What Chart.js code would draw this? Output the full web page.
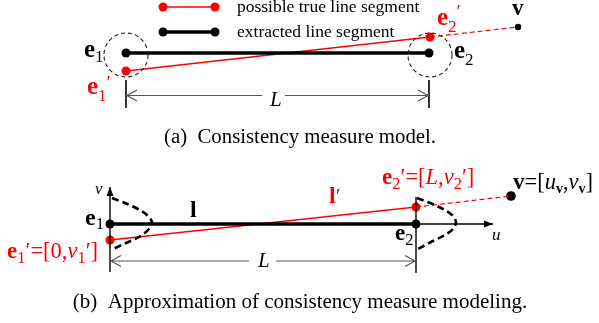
<!DOCTYPE html>
<html>
<head>
<meta charset="utf-8">
<script src="https://cdn.jsdelivr.net/npm/chart.js@4"></script>
<style>
  html, body { margin: 0; padding: 0; background: #fff; }
  #wrap { width: 599px; height: 323px; }
</style>
</head>
<body>
<div id="wrap"><canvas id="fig"></canvas></div>
<script>
// all values are in figure units (x to the right, y downward)

// legend samples
const legendTrue = [[163, 7], [215, 7]];
const legendExtracted = [[163, 32], [215, 32]];

// (a) consistency measure model
const extractedA = [[126, 53], [429, 53]];
const trueA = [[126, 71], [430, 37]];
const extendA = [[430, 37], [518, 27]];
const pointV_A = [[518, 27]];
const circlesA = [[126, 55, 22], [430, 55, 22]];
const dimTicksA = [[126, 80, 108], [429, 80, 108]];
const dimA = [126, 429, 95.5];

// (b) approximation
const extractedB = [[110, 224], [416, 224]];
const trueB = [[110, 240], [416, 207]];
const extendB = [[416, 207], [511, 196]];
const pointV_B = [[511, 196]];
const bellE1 = [[112, 198], [125, 203], [138, 209], [147, 215], [152, 222], [149, 229], [139, 237], [126, 243], [113, 249]];
const bellE2 = [[417, 198], [430, 203], [443, 209], [452, 215], [456, 222], [453, 229], [443, 236], [431, 242], [418, 249]];
const axisV = [[110, 272], [110, 187]];
const axisU = [[110, 224], [493, 224]];
const e2Tick = [[416, 197], [416, 273]];
const dimB = [110, 416, 261];

const xy = (arr) => arr.map(([x, y]) => ({ x, y }));
const RED = "#ff0000";
const SERIF = "'Liberation Serif', 'DejaVu Serif', serif";

// text labels: runs of [text, style, size, dy]
const labels = [
  { x: 237, y: 12, color: "#000", runs: [["possible true line segment", "", 17.5, 0]] },
  { x: 237, y: 37, color: "#000", runs: [["extracted line segment", "", 17.5, 0]] },
  { x: 84, y: 57, color: "#000", runs: [["e", "bold", 25, 0], ["1", "", 17, 5]] },
  { x: 87, y: 94, color: RED, runs: [["e", "bold", 25, 0], ["1", "", 17, 7], ["\u2032", "", 19, -5]] },
  { x: 437, y: 25, color: RED, runs: [["e", "bold", 25, 0], ["2", "", 17, 7], ["\u2032", "", 19, -7]] },
  { x: 454, y: 58, color: "#000", runs: [["e", "bold", 25, 0], ["2", "", 17, 7]] },
  { x: 512, y: 15, color: "#000", runs: [["v", "bold", 23, 0]] },
  { x: 270, y: 106, color: "#000", runs: [["L", "italic", 21, 0]] },
  { x: 300, y: 143, color: "#000", center: true, runs: [["(a)  Consistency measure model.", "", 20.8, 0]] },

  { x: 95, y: 194, color: "#000", runs: [["v", "italic", 17, 0]] },
  { x: 85, y: 225, color: "#000", runs: [["e", "bold", 24, 0], ["1", "", 17, 4]] },
  { x: 190, y: 217, color: "#000", runs: [["l", "bold", 24, 0]] },
  { x: 7, y: 258, color: RED, runs: [["e", "bold", 23, 0], ["1", "", 16.5, 5], ["\u2032=[0,", "", 22.5, 0], ["v", "italic", 22.5, 0], ["1", "", 16.5, 5], ["\u2032]", "", 22.5, 0]] },
  { x: 329, y: 203, color: RED, runs: [["l", "bold", 24, 0], ["\u2032", "", 22, 0]] },
  { x: 382, y: 184, color: RED, runs: [["e", "bold", 23, 0], ["2", "", 16.5, 5], ["\u2032=[", "", 22.5, 0], ["L", "italic", 22.5, 0], [",", "", 22.5, 0], ["v", "italic", 22.5, 0], ["2", "", 16.5, 5], ["\u2032]", "", 22.5, 0]] },
  { x: 513, y: 189, color: "#000", runs: [["v", "bold", 23, 0], ["=[", "", 22.5, 0], ["u", "italic", 22.5, 0], ["v", "bold", 14, 4], [",", "", 22.5, 0], ["v", "italic", 22.5, 0], ["v", "bold", 14, 4], ["]", "", 22.5, 0]] },
  { x: 395, y: 240, color: "#000", runs: [["e", "bold", 23, 0], ["2", "", 16.5, 5]] },
  { x: 492, y: 240, color: "#000", runs: [["u", "italic", 17, 0]] },
  { x: 258, y: 267, color: "#000", runs: [["L", "italic", 21, 0]] },
  { x: 300, y: 308, color: "#000", center: true, runs: [["(b)  Approximation of consistency measure modeling.", "", 21, 0]] },
];

function runFont(r) {
  return (r[1] ? r[1] + " " : "") + r[2] + "px " + SERIF;
}

const lineDs = (data, color, width, dash, extra) => Object.assign({
  data: xy(data), showLine: true, borderColor: color, borderWidth: width,
  borderDash: dash || [], pointRadius: 0, fill: false, tension: 0,
}, extra || {});

const dotDs = (data, color, r) => ({
  data: xy(data), showLine: false, pointRadius: r, pointBackgroundColor: color,
  pointBorderWidth: 0, borderColor: color,
});

const decorations = {
  id: "decorations",
  afterDatasetsDraw(chart) {
    const ctx = chart.ctx;
    const sx = chart.scales.x, sy = chart.scales.y;
    const X = (v) => sx.getPixelForValue(v), Y = (v) => sy.getPixelForValue(v);
    ctx.save();

    // dashed circles around the end points in (a)
    ctx.strokeStyle = "#222";
    ctx.lineWidth = 1.1;
    ctx.setLineDash([4, 3]);
    circlesA.forEach(([cx, cy, r]) => {
      ctx.beginPath();
      ctx.arc(X(cx), Y(cy), Math.abs(X(cx + r) - X(cx)), 0, Math.PI * 2);
      ctx.stroke();
    });
    ctx.setLineDash([]);

    // dimension lines
    ctx.strokeStyle = "#000";
    ctx.lineWidth = 1.6;
    dimTicksA.forEach(([x, y0, y1]) => {
      ctx.beginPath(); ctx.moveTo(X(x), Y(y0)); ctx.lineTo(X(x), Y(y1)); ctx.stroke();
    });
    const dim = ([x0, x1, y], gap0, gap1) => {
      ctx.strokeStyle = "#555";
      ctx.lineWidth = 1.2;
      ctx.beginPath();
      ctx.moveTo(X(x0), Y(y)); ctx.lineTo(X(gap0), Y(y));
      ctx.moveTo(X(gap1), Y(y)); ctx.lineTo(X(x1), Y(y));
      ctx.moveTo(X(x0) + 11, Y(y) - 5.5); ctx.lineTo(X(x0) + 1, Y(y)); ctx.lineTo(X(x0) + 11, Y(y) + 5.5);
      ctx.moveTo(X(x1) - 11, Y(y) - 5.5); ctx.lineTo(X(x1) - 1, Y(y)); ctx.lineTo(X(x1) - 11, Y(y) + 5.5);
      ctx.stroke();
    };
    dim(dimA, 262, 285);
    dim(dimB, 249, 276);

    // axis arrow heads in (b)
    ctx.fillStyle = "#000";
    const tipV = axisV[1], tipU = axisU[1];
    ctx.beginPath();
    ctx.moveTo(X(tipV[0]), Y(tipV[1]));
    ctx.lineTo(X(tipV[0]) - 3.5, Y(tipV[1]) + 9);
    ctx.lineTo(X(tipV[0]) + 3.5, Y(tipV[1]) + 9);
    ctx.closePath(); ctx.fill();
    ctx.beginPath();
    ctx.moveTo(X(tipU[0]), Y(tipU[1]));
    ctx.lineTo(X(tipU[0]) - 9, Y(tipU[1]) - 3.5);
    ctx.lineTo(X(tipU[0]) - 9, Y(tipU[1]) + 3.5);
    ctx.closePath(); ctx.fill();

    // labels
    ctx.textBaseline = "alphabetic";
    ctx.textAlign = "left";
    labels.forEach((lb) => {
      let w = 0;
      lb.runs.forEach((r) => { ctx.font = runFont(r); w += ctx.measureText(r[0]).width; });
      let x = X(lb.x) - (lb.center ? w / 2 : 0);
      const y = Y(lb.y);
      ctx.fillStyle = lb.color;
      lb.runs.forEach((r) => {
        ctx.font = runFont(r);
        ctx.fillText(r[0], x, y + r[3]);
        x += ctx.measureText(r[0]).width;
      });
    });
    ctx.restore();
  },
};

new Chart(document.getElementById("fig"), {
  type: "scatter",
  data: {
    datasets: [
      lineDs(legendTrue, RED, 1.5, null, { pointRadius: 4.5, pointBackgroundColor: RED, pointBorderWidth: 0 }),
      lineDs(legendExtracted, "#000", 3.5, null, { pointRadius: 4.5, pointBackgroundColor: "#000", pointBorderWidth: 0 }),
      lineDs(extractedA, "#000", 3.5),
      lineDs(trueA, RED, 1.3),
      lineDs(extendA, RED, 1.2, [5, 3]),
      dotDs(extractedA, "#000", 4.5),
      dotDs(trueA, RED, 4.5),
      dotDs(pointV_A, "#000", 3.2),

      lineDs(axisV, "#000", 1.4),
      lineDs(axisU, "#000", 1.4),
      lineDs(e2Tick, "#000", 1.4),
      lineDs(bellE1, "#000", 2.6, [7, 4], { tension: 0.3 }),
      lineDs(bellE2, "#000", 2.6, [7, 4], { tension: 0.3 }),
      lineDs(extractedB, "#000", 3.5),
      lineDs(trueB, RED, 1.3),
      lineDs(extendB, RED, 1.2, [5, 3]),
      dotDs(extractedB, "#000", 4.5),
      dotDs(trueB, RED, 4.5),
      dotDs(pointV_B, "#000", 4.8),
    ],
  },
  options: {
    responsive: true,
    maintainAspectRatio: false,
    animation: false,
    layout: { padding: 0, autoPadding: false },
    plugins: { legend: { display: false }, tooltip: { enabled: false } },
    scales: {
      x: { type: "linear", min: 0, max: 599, display: false },
      y: { type: "linear", min: 0, max: 323, reverse: true, display: false },
    },
  },
  plugins: [decorations],
});
</script>
</body>
</html>
